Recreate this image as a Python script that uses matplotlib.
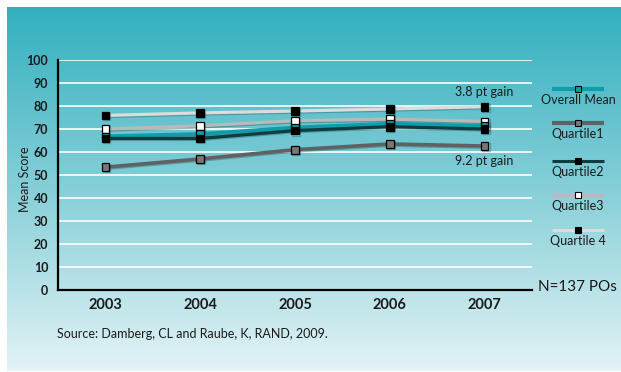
import numpy as np
import matplotlib
matplotlib.use("Agg")
import matplotlib.pyplot as plt
import matplotlib.patheffects as pe
from matplotlib.colors import LinearSegmentedColormap

plt.rcParams["font.family"] = ["Lato", "DejaVu Sans"]

# Dados
anos = ["2003", "2004", "2005", "2006", "2007"]
media_geral = [66.8, 67.8, 70.6, 72.3, 71.3]
quartil1 = [53.4, 57.0, 61.0, 63.5, 62.6]
quartil2 = [65.9, 65.9, 69.3, 71.0, 70.0]
quartil3 = [70.0, 71.4, 73.6, 74.3, 73.3]
quartil4 = [75.9, 77.0, 77.8, 78.7, 79.7]
yticks = list(range(0, 101, 10))

W, H = 621, 372
TXT = "#1b1b1b"

fig = plt.figure(figsize=(W / 100, H / 100), dpi=100)
fig.patch.set_facecolor("white")

# Fundo com gradiente + legenda em coordenadas de pixel
bg = fig.add_axes([0, 0, 1, 1], zorder=0)
bg.set_xlim(0, W)
bg.set_ylim(H, 0)
bg.axis("off")
cmap = LinearSegmentedColormap.from_list("fundo", ["#33b0bf", "#86cfd8", "#e3f3f6"])
grad = np.linspace(0, 1, 256).reshape(-1, 1)
bg.imshow(grad, cmap=cmap, extent=(7, W, 371, 7), aspect="auto", interpolation="bicubic")

# Eixo principal
ax = fig.add_axes([58 / W, (H - 290) / H, 474 / W, 230 / H], zorder=1)
ax.patch.set_alpha(0)
x = np.arange(len(anos))

ax.set_ylim(0, 100)
ax.set_xlim(-0.5, 4.5)
ax.set_yticks(yticks)
for v in yticks[1:]:
    ax.axhline(v, color="white", lw=1.2, zorder=1)

sombra = [pe.SimpleLineShadow(offset=(0.8, -0.8), alpha=0.35, shadow_color="#20484c"), pe.Normal()]

series = [
    ("Quartile 4", quartil4, "#dcdcdc", 2.3, "black", "black", 5.5),
    ("Quartile3", quartil3, "#b9b9b9", 2.3, "white", "black", 5.5),
    ("Overall Mean", media_geral, "#0e9eab", 2.8, "#0e9eab", "black", 5.5),
    ("Quartile2", quartil2, "#0f3c40", 2.3, "black", "black", 5.5),
    ("Quartile1", quartil1, "#5f6163", 2.6, "#777777", "black", 5.5),
]
for nome, vals, cor, lw, face, borda, ms in series:
    ax.plot(x, vals, color=cor, lw=lw, marker="s", ms=ms, mfc=face, mec=borda, mew=0.9,
            zorder=3, path_effects=sombra)

for lado in ["top", "right"]:
    ax.spines[lado].set_visible(False)
for lado in ["left", "bottom"]:
    ax.spines[lado].set_linewidth(1.6)
    ax.spines[lado].set_color("black")
ax.tick_params(length=0)
ax.set_xticks(x)
ax.set_xticklabels(anos, fontsize=10.5, fontweight="bold", color=TXT)
ax.tick_params(axis="x", pad=6)
ax.tick_params(axis="y", pad=7, labelsize=9, labelcolor=TXT)
for t in ax.get_yticklabels():
    t.set_fontweight("bold")
ax.set_ylabel("Mean Score", fontsize=9, color=TXT)
ax.yaxis.set_label_coords(-27 / 474, 0.48)

ax.text(4, 83.5, "3.8 pt gain", ha="center", va="bottom", fontsize=9, color=TXT)
ax.text(4, 58.5, "9.2 pt gain", ha="center", va="top", fontsize=9, color=TXT)

# Legenda (amostras acima, rótulos abaixo)
legenda = [
    ("Overall Mean", "#0e9eab", 3.0, "#0e9eab", 89),
    ("Quartile1", "#5f6163", 3.0, "#777777", 123),
    ("Quartile2", "#0f3c40", 2.2, "black", 161),
    ("Quartile3", "#b9b9b9", 2.2, "white", 195),
    ("Quartile 4", "#dcdcdc", 2.2, "black", 230),
]
for nome, cor, lw, face, yy in legenda:
    bg.plot([552, 604], [yy, yy], color=cor, lw=lw, solid_capstyle="butt")
    bg.plot([578], [yy], marker="s", ms=4.5, mfc=face, mec="black", mew=0.8)
    bg.text(578, yy + 5, nome, ha="center", va="top", fontsize=9, color=TXT)

bg.text(538, 287, "N=137 POs", ha="left", va="center", fontsize=11, color=TXT)
bg.text(57, 334, "Source: Damberg, CL and Raube, K, RAND, 2009.", ha="left", va="center",
        fontsize=9, color=TXT)

fig.savefig("out.png", dpi=100)
